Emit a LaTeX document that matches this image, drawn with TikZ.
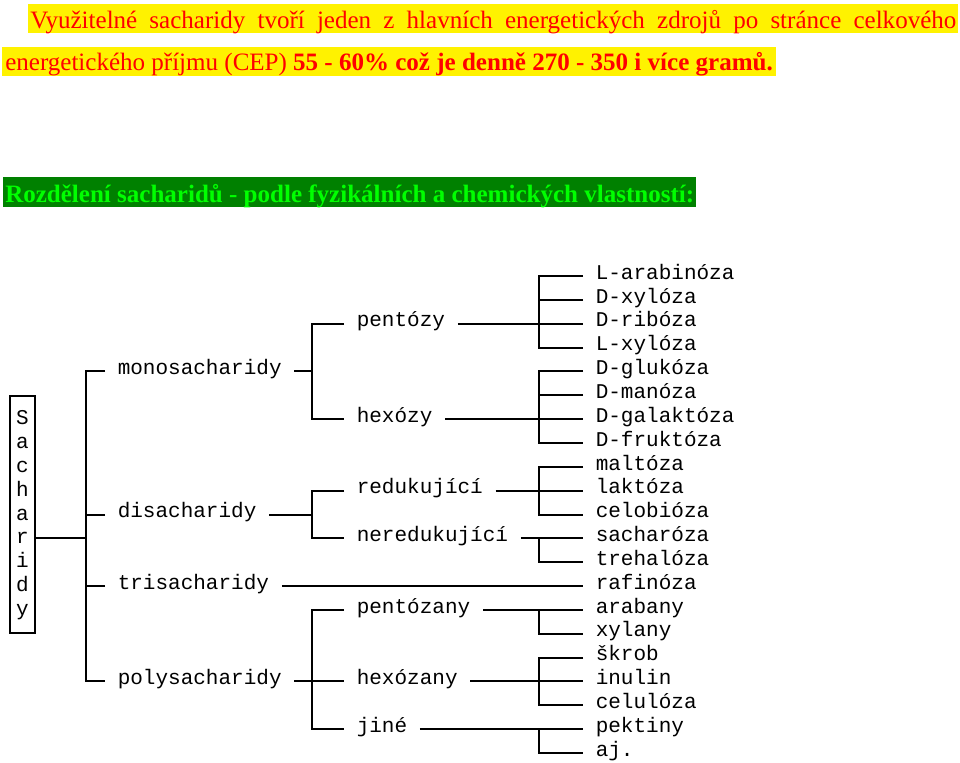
\documentclass[tikz,border=0pt]{standalone}
\usepackage{fontspec}
\setmainfont{Liberation Serif}
\setmonofont{Liberation Mono}
\definecolor{bandgreen}{RGB}{0,128,0}
\definecolor{titlegreen}{RGB}{0,255,0}

\begin{document}
\begin{tikzpicture}[x=0.25mm, y=-0.25mm,
  head/.style={anchor=base west, inner ysep=0pt, font=\fontsize{17.8pt}{20pt}\selectfont},
  item/.style={anchor=mid west, inner xsep=3.125mm, inner ysep=0pt, font=\ttfamily\fontsize{14.94pt}{16.97pt}\selectfont},
  link/.style={line width=0.5mm}]

\useasboundingbox (0,0) rectangle (960,762);

%% Heading
\node [head, fill=yellow, text=red, inner xsep=0.5mm, text height=6mm, text depth=1.25mm] (line1) at (28,28)
  {\makebox[231.5mm][s]{Využitelné sacharidy tvoří jeden z hlavních energetických zdrojů po stránce celkového}};
\node [head, fill=yellow, text=red, inner xsep=0.75mm, text height=5.75mm, text depth=1.5mm] (line2) at (2,70)
  {energetického příjmu (CEP) \textbf{55 - 60\% což je denně 270 - 350 i více gramů.}};
\node [head, fill=bandgreen, text=titlegreen, inner xsep=0.5mm, text height=6.25mm, text depth=1.25mm] (title) at (3,202)
  {\textbf{Rozdělení sacharidů - podle fyzikálních a chemických vlastností:}};

%% Root
\node [draw, line width=0.5mm, minimum width=6.25mm, minimum height=59.25mm, inner sep=0pt, align=center,
  text height=53mm, text depth=2.5mm,
  font=\ttfamily\fontsize{14.94pt}{16.97pt}\selectfont] (sach) at (22.5,514.5) {S\\a\\c\\h\\a\\r\\i\\d\\y};

%% First level
\node [item] (mono) at (105,371.4) {monosacharidy};
\node [item] (di) at (105,514.5) {disacharidy};
\node [item] (tri) at (105,586.05) {trisacharidy};
\node [item] (poly) at (105,681.45) {polysacharidy};

%% Second level
\node [item] (pentozy) at (344,323.7) {pentózy};
\node [item] (hexozy) at (344,419.1) {hexózy};
\node [item] (redukc) at (344,490.65) {redukující};
\node [item] (neredukc) at (344,538.35) {neredukující};
\node [item] (pentozany) at (344,609.9) {pentózany};
\node [item] (hexozany) at (344,681.45) {hexózany};
\node [item] (jine) at (344,729.15) {jiné};

%% Third level
\node [item] (larab) at (583,276) {L-arabinóza};
\node [item] (dxylo) at (583,299.85) {D-xylóza};
\node [item] (dribo) at (583,323.7) {D-ribóza};
\node [item] (lxylo) at (583,347.55) {L-xylóza};
\node [item] (dgluk) at (583,371.4) {D-glukóza};
\node [item] (dmano) at (583,395.25) {D-manóza};
\node [item] (dgalak) at (583,419.1) {D-galaktóza};
\node [item] (dfruk) at (583,442.95) {D-fruktóza};
\node [item] (malto) at (583,466.8) {maltóza};
\node [item] (lakto) at (583,490.65) {laktóza};
\node [item] (celob) at (583,514.5) {celobióza};
\node [item] (sacha) at (583,538.35) {sacharóza};
\node [item] (treha) at (583,562.2) {trehalóza};
\node [item] (rafin) at (583,586.05) {rafinóza};
\node [item] (araban) at (583,609.9) {arabany};
\node [item] (xylan) at (583,633.75) {xylany};
\node [item] (skrob) at (583,657.6) {škrob};
\node [item] (inulin) at (583,681.45) {inulin};
\node [item] (celul) at (583,705.3) {celulóza};
\node [item] (pekt) at (583,729.15) {pektiny};
\node [item] (aj) at (583,753) {aj.};

\coordinate (bar0) at (86,0);
\coordinate (bar1) at (312,0);
\coordinate (bar2) at (539,0);

%% Root to first level
\draw [link] (sach.east |- neredukc.mid west) -- (bar0 |- neredukc.mid west);
\draw [link] (mono.mid west) -- (bar0 |- mono.mid west) -- (bar0 |- poly.mid west) -- (poly.mid west);
\draw [link] (di.mid west) -- (bar0 |- di.mid west);
\draw [link] (tri.mid west) -- (bar0 |- tri.mid west);

%% monosacharidy
\draw [link] (mono.mid east) -- (bar1 |- mono.mid east);
\draw [link] (pentozy.mid west) -- (bar1 |- pentozy.mid west) -- (bar1 |- hexozy.mid west) -- (hexozy.mid west);

%% disacharidy
\draw [link] (di.mid east) -- (bar1 |- di.mid east);
\draw [link] (redukc.mid west) -- (bar1 |- redukc.mid west) -- (bar1 |- neredukc.mid west) -- (neredukc.mid west);

%% trisacharidy
\draw [link] (tri.mid east) -- (rafin.mid west);

%% polysacharidy
\draw [link] (poly.mid east) -- (hexozany.mid west);
\draw [link] (pentozany.mid west) -- (bar1 |- pentozany.mid west) -- (bar1 |- jine.mid west) -- (jine.mid west);

%% pentozy, hexozy
\draw [link] (pentozy.mid east) -- (dribo.mid west);
\draw [link] (larab.mid west) -- (bar2 |- larab.mid west) -- (bar2 |- lxylo.mid west) -- (lxylo.mid west);
\draw [link] (dxylo.mid west) -- (bar2 |- dxylo.mid west);
\draw [link] (hexozy.mid east) -- (dgalak.mid west);
\draw [link] (dgluk.mid west) -- (bar2 |- dgluk.mid west) -- (bar2 |- dfruk.mid west) -- (dfruk.mid west);
\draw [link] (dmano.mid west) -- (bar2 |- dmano.mid west);

%% redukujici, neredukujici
\draw [link] (redukc.mid east) -- (lakto.mid west);
\draw [link] (malto.mid west) -- (bar2 |- malto.mid west) -- (bar2 |- celob.mid west) -- (celob.mid west);
\draw [link] (neredukc.mid east) -- (sacha.mid west);
\draw [link] (bar2 |- sacha.mid west) -- (bar2 |- treha.mid west) -- (treha.mid west);

%% pentozany, hexozany, jine
\draw [link] (pentozany.mid east) -- (araban.mid west);
\draw [link] (bar2 |- araban.mid west) -- (bar2 |- xylan.mid west) -- (xylan.mid west);
\draw [link] (hexozany.mid east) -- (inulin.mid west);
\draw [link] (skrob.mid west) -- (bar2 |- skrob.mid west) -- (bar2 |- celul.mid west) -- (celul.mid west);
\draw [link] (jine.mid east) -- (pekt.mid west);
\draw [link] (bar2 |- pekt.mid west) -- (bar2 |- aj.mid west) -- (aj.mid west);

\end{tikzpicture}
\end{document}
